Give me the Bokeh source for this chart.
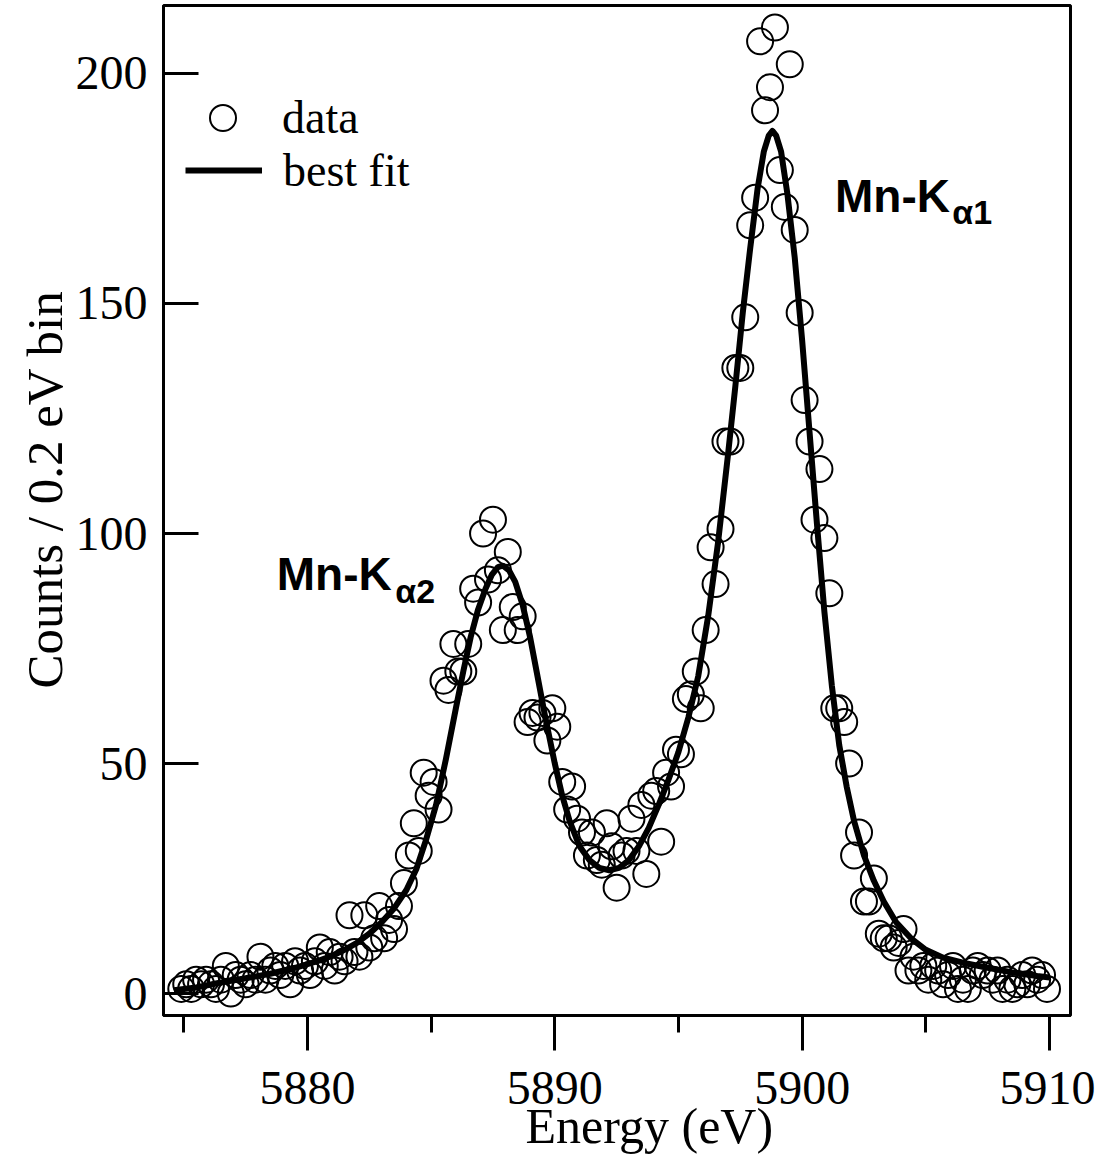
import math
from bokeh.plotting import figure
from bokeh.models import Range1d, Legend, LegendItem, Label, FixedTicker, Title
from bokeh.embed import file_html
from bokeh.resources import INLINE

energy = [
    5874.9, 5875.1, 5875.3, 5875.5, 5875.7, 5875.9, 5876.1, 5876.3, 5876.5, 5876.7,
    5876.9, 5877.1, 5877.3, 5877.5, 5877.7, 5877.9, 5878.1, 5878.3, 5878.5, 5878.7,
    5878.9, 5879.1, 5879.3, 5879.5, 5879.7, 5879.9, 5880.1, 5880.3, 5880.5, 5880.7,
    5880.9, 5881.1, 5881.3, 5881.5, 5881.7, 5881.9, 5882.1, 5882.3, 5882.5, 5882.7,
    5882.9, 5883.1, 5883.3, 5883.5, 5883.7, 5883.9, 5884.1, 5884.3, 5884.5, 5884.7,
    5884.9, 5885.1, 5885.3, 5885.5, 5885.7, 5885.9, 5886.1, 5886.3, 5886.5, 5886.7,
    5886.9, 5887.1, 5887.3, 5887.5, 5887.7, 5887.9, 5888.1, 5888.3, 5888.5, 5888.7,
    5888.9, 5889.1, 5889.3, 5889.5, 5889.7, 5889.9, 5890.1, 5890.3, 5890.5, 5890.7,
    5890.9, 5891.1, 5891.3, 5891.5, 5891.7, 5891.9, 5892.1, 5892.3, 5892.5, 5892.7,
    5892.9, 5893.1, 5893.3, 5893.5, 5893.7, 5893.9, 5894.1, 5894.3, 5894.5, 5894.7,
    5894.9, 5895.1, 5895.3, 5895.5, 5895.7, 5895.9, 5896.1, 5896.3, 5896.5, 5896.7,
    5896.9, 5897.1, 5897.3, 5897.5, 5897.7, 5897.9, 5898.1, 5898.3, 5898.5, 5898.7,
    5898.9, 5899.1, 5899.3, 5899.5, 5899.7, 5899.9, 5900.1, 5900.3, 5900.5, 5900.7,
    5900.9, 5901.1, 5901.3, 5901.5, 5901.7, 5901.9, 5902.1, 5902.3, 5902.5, 5902.7,
    5902.9, 5903.1, 5903.3, 5903.5, 5903.7, 5903.9, 5904.1, 5904.3, 5904.5, 5904.7,
    5904.9, 5905.1, 5905.3, 5905.5, 5905.7, 5905.9, 5906.1, 5906.3, 5906.5, 5906.7,
    5906.9, 5907.1, 5907.3, 5907.5, 5907.7, 5907.9, 5908.1, 5908.3, 5908.5, 5908.7,
    5908.9, 5909.1, 5909.3, 5909.5, 5909.7, 5909.9,
]

counts = [
    1, 2, 1, 3, 2, 3, 2, 1, 3, 6,
    0, 4, 3, 2, 4, 3, 8, 3, 5, 6,
    4, 6, 2, 7, 5, 6, 4, 7, 10, 6,
    9, 5, 8, 7, 17, 9, 8, 17, 10, 12,
    19, 12, 16, 14, 19, 24, 30, 37, 31, 48,
    43, 46, 40, 68, 66, 76, 70, 70, 76, 88,
    85, 100, 90, 103, 92, 79, 96, 84, 79, 82,
    59, 61, 60, 61, 55, 62, 58, 46, 40, 45,
    38, 35, 30, 35, 29, 28, 37, 32, 23, 30,
    31, 38, 31, 41, 26, 43, 44, 33, 48, 45,
    53, 52, 64, 65, 70, 62, 79, 97, 89, 101,
    120, 120, 136, 136, 147, 167, 173, 207, 192, 197,
    210, 179, 171, 202, 166, 148, 129, 120, 103, 114,
    99, 87, 62, 62, 59, 50, 30, 35, 20, 20,
    25, 13, 12, 12, 10, 11, 14, 5, 8, 5,
    6, 3, 6, 5, 2, 4, 6, 1, 3, 1,
    5, 6, 4, 5, 3, 5, 1, 3, 1, 2,
    4, 2, 5, 3, 4, 1,
]

fit_energy = [
    5874.6, 5875.5, 5876.5, 5877.5, 5878.5, 5879.5, 5880.5,
    5881.0, 5881.5, 5882.0, 5882.5, 5883.0, 5883.5, 5884.0,
    5884.4, 5884.8, 5885.2, 5885.6, 5886.0, 5886.3,
    5886.6, 5886.9, 5887.2, 5887.45, 5887.7, 5887.9,
    5888.15, 5888.4, 5888.7, 5889.0, 5889.3, 5889.6,
    5890.0, 5890.3, 5890.6, 5891.0, 5891.4, 5891.8,
    5892.2, 5892.6, 5893.0, 5893.4, 5893.8, 5894.2,
    5894.6, 5895.0, 5895.4, 5895.8, 5896.2, 5896.6,
    5897.0, 5897.3, 5897.6, 5897.9, 5898.2, 5898.45,
    5898.65, 5898.8, 5898.95, 5899.15, 5899.4, 5899.7,
    5900.0, 5900.3, 5900.6, 5900.9, 5901.2, 5901.5,
    5901.8, 5902.1, 5902.5, 5902.9, 5903.3, 5903.8,
    5904.4, 5905.0, 5905.7, 5906.5, 5907.5, 5908.5,
    5909.5, 5910.0,
]

fit_counts = [
    0.7, 1.3, 2.4, 3.3, 4.3, 5.6, 7.2,
    8.2, 9.5, 11, 13, 15.5, 18.5, 22.5,
    27, 33.5, 41, 51, 62, 70,
    77.5, 83.5, 88, 91, 92.7, 93,
    92, 89.5, 84.5, 77.5, 69, 60.5,
    50, 43, 37.5, 32, 29, 27.3,
    26.8, 27.3, 29, 32, 36, 41,
    46.5, 52.5, 60, 69, 82, 98,
    117, 132, 148, 162, 175, 183,
    186.5, 187.5, 186.5, 183, 174, 160,
    142, 122, 102, 83, 67, 54,
    45, 37.5, 30, 24.5, 20, 15.5,
    12, 9.5, 7.8, 6.7, 5.6, 4.6,
    3.8, 3.5,
]

x_major_ticks = [5880, 5890, 5900, 5910]
x_minor_ticks = [5875, 5885, 5895, 5905]
y_major_ticks = [0, 50, 100, 150, 200]

x_title = "Energy (eV)"
y_title = "Counts / 0.2 eV bin"

SERIF = "Liberation Serif"
SANS = "Liberation Sans"

p = figure(
    width=1095, height=1160,
    x_range=Range1d(5874.18, 5910.85),
    y_range=Range1d(-4.78, 214.78),
    output_backend="svg", toolbar_location=None,
    min_border_left=163, min_border_right=25,
    min_border_top=5, min_border_bottom=145,
)
p.background_fill_color = "white"
p.border_fill_color = "white"
p.outline_line_color = "black"
p.outline_line_width = 3
p.grid.visible = False

r_data = p.scatter(energy, counts, marker="circle", size=26,
                   fill_color=None, line_color="black", line_width=2)
r_fit = p.line(fit_energy, fit_counts, line_color="black", line_width=6,
               line_join="round")

xa = p.xaxis[0]
xa.ticker = FixedTicker(ticks=x_major_ticks, minor_ticks=x_minor_ticks)
xa.axis_line_width = 3
xa.major_tick_line_width = 3
xa.minor_tick_line_width = 3
xa.major_tick_in = 0
xa.major_tick_out = 35
xa.minor_tick_in = 0
xa.minor_tick_out = 17
xa.major_label_text_font = SERIF
xa.major_label_text_font_size = "48px"
xa.major_label_text_color = "black"
xa.major_label_standoff = 21

ya = p.yaxis[0]
ya.ticker = FixedTicker(ticks=y_major_ticks)
ya.axis_line_width = 3
ya.major_tick_line_width = 3
ya.major_tick_in = 35
ya.major_tick_out = 0
ya.minor_tick_in = 0
ya.minor_tick_out = 0
ya.major_label_text_font = SERIF
ya.major_label_text_font_size = "48px"
ya.major_label_text_color = "black"
ya.major_label_standoff = 16

# axis titles as side-panel titles so they can sit off-centre like the reference
def make_title(text, size, offset, standoff):
    kw = dict(text=text, align="left", offset=offset, text_font=SERIF,
              text_font_size=size, text_font_style="normal", text_color="black")
    try:
        return Title(standoff=standoff, **kw)
    except Exception:
        return Title(standoff=0, **kw)

p.add_layout(make_title(x_title, "50px", 362, -22), "below")
p.add_layout(make_title(y_title, "51px", 327, 0), "left")

leg_data = Legend(
    items=[LegendItem(label="data", renderers=[r_data])],
    location=(27, 865), glyph_width=65, glyph_height=65, label_standoff=27,
    padding=0, margin=0, border_line_color=None, background_fill_alpha=0,
    label_text_font=SERIF, label_text_font_size="46px", label_text_color="black",
)
leg_fit = Legend(
    items=[LegendItem(label="best fit", renderers=[r_fit])],
    location=(22, 818), glyph_width=77, glyph_height=54, label_standoff=21,
    padding=0, margin=0, border_line_color=None, background_fill_alpha=0,
    label_text_font=SERIF, label_text_font_size="46px", label_text_color="black",
)
p.add_layout(leg_data)
p.add_layout(leg_fit)

def add_line_label(x, y, text, size):
    p.add_layout(Label(x=x, y=y, text=text, text_font=SANS,
                       text_font_style="bold", text_font_size=size,
                       text_color="black", text_baseline="middle"))

add_line_label(5901.33, 173.4, "Mn-K", "46px")
add_line_label(5906.07, 169.8, "α1", "34px")
add_line_label(5878.76, 91.2, "Mn-K", "46px")
add_line_label(5883.55, 87.6, "α2", "34px")

open("out.html", "w").write(file_html(p, INLINE))
